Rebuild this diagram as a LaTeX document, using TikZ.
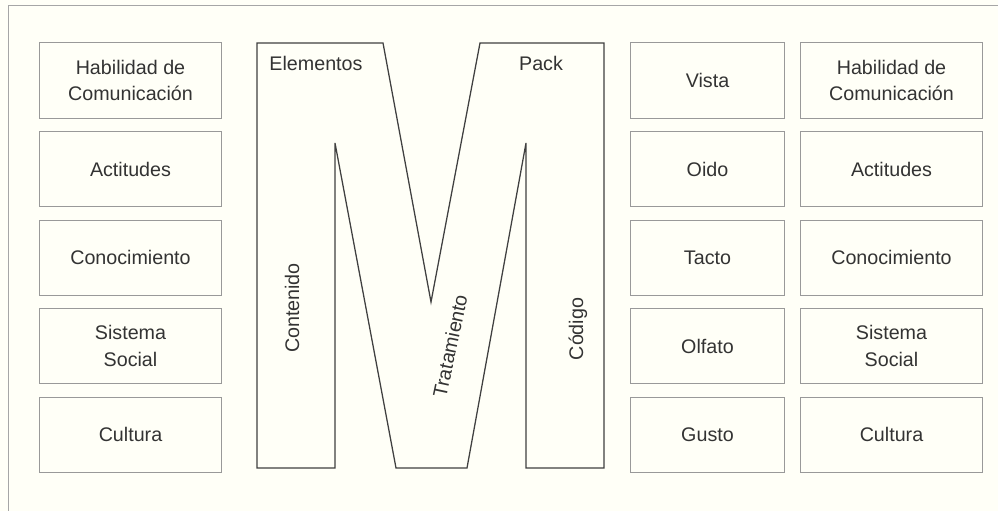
\documentclass[tikz,border=0pt]{standalone}
\usepackage{fontspec}
\setmainfont{Liberation Sans}
\usetikzlibrary{positioning}
\begin{document}
\begin{tikzpicture}[x=0.025cm, y=-0.025cm, line width=0.7pt,
    caja/.style={draw=gray!80, minimum height=1.875cm, align=center, inner sep=0pt,
       font=\fontsize{14}{19}\selectfont, text=black!80},
    ancha/.style={caja, minimum width=4.525cm},
    angosta/.style={caja, minimum width=3.825cm},
    etiqueta/.style={font=\fontsize{14}{19}\selectfont, text=black!80}]
    \clip (0,0) rectangle (998,511);
    \fill[white!97!yellow] (0,0) rectangle (998,511);
    \draw[draw = gray!70] (8,5) rectangle (1020,540);
    % columna izquierda
    \node[ancha] (hab1) at (130.5,80.5) {Habilidad de\\Comunicación};
    \node[ancha, below = 0.3125cm of hab1] (act1) {Actitudes};
    \node[ancha, below = 0.3125cm of act1] (con1) {Conocimiento};
    \node[ancha, below = 0.3125cm of con1] (sis1) {Sistema\\Social};
    \node[ancha, below = 0.3125cm of sis1] (cul1) {Cultura};
    % sentidos
    \node[angosta] (vista) at (707.5,80.5) {Vista};
    \node[angosta, below = 0.3125cm of vista] (oido) {Oido};
    \node[angosta, below = 0.3125cm of oido] (tacto) {Tacto};
    \node[angosta, below = 0.3125cm of tacto] (olfato) {Olfato};
    \node[angosta, below = 0.3125cm of olfato] (gusto) {Gusto};
    % columna derecha
    \node[ancha] (hab2) at (891.5,80.5) {Habilidad de\\Comunicación};
    \node[ancha, below = 0.3125cm of hab2] (act2) {Actitudes};
    \node[ancha, below = 0.3125cm of act2] (con2) {Conocimiento};
    \node[ancha, below = 0.3125cm of con2] (sis2) {Sistema\\Social};
    \node[ancha, below = 0.3125cm of sis2] (cul2) {Cultura};
    % la M
    \draw[draw = black!75, line width=0.9pt] (257,43) -- (383,43) -- (431,302) -- (480,43)
       -- (604,43) -- (604,468) -- (526,468) -- (526,143) -- (467,468) -- (396,468)
       -- (335,143) -- (335,468) -- (257,468) -- cycle;
    \node[etiqueta] (elem) at (316,63) {Elementos};
    \node[etiqueta] (pack) at (541,63) {Pack};
    \node[etiqueta, rotate = 90] (cont) at (292,308) {Contenido};
    \node[etiqueta, rotate = 78] (trat) at (450,346) {Tratamiento};
    \node[etiqueta, rotate = 90] (cod) at (578,329) {Código};
\end{tikzpicture}
\end{document}
